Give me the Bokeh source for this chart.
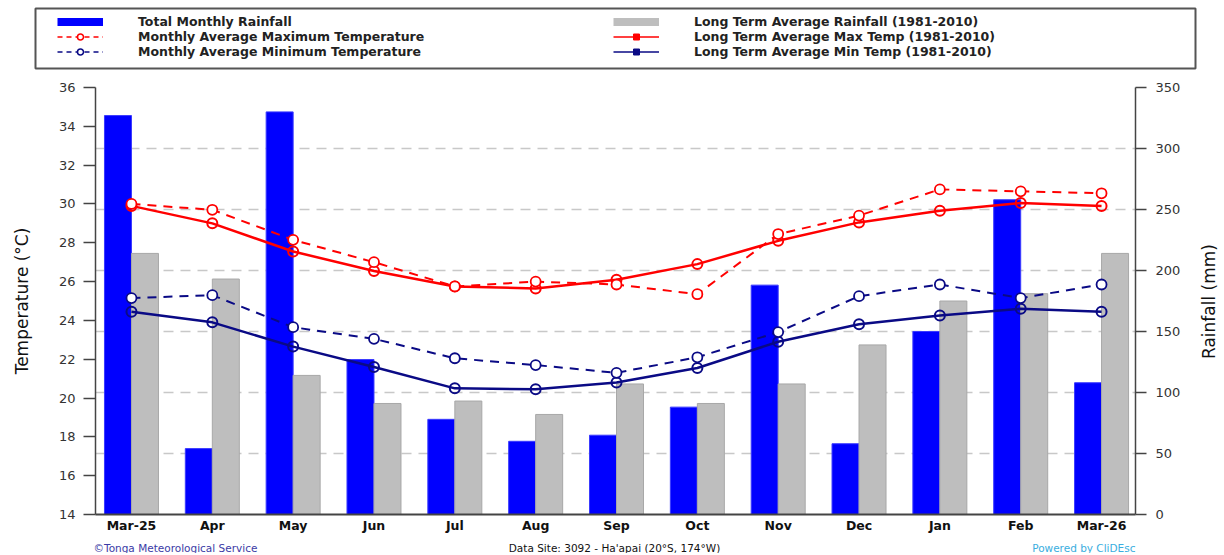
import math
from bokeh.plotting import figure
from bokeh.models import (Range1d, LinearAxis, FixedTicker, Grid, Legend, LegendItem,
                          Label, ColumnDataSource)
from bokeh.transform import dodge
from bokeh.layouts import column, row
from bokeh.embed import file_html
from bokeh.resources import INLINE

# ---------------- data ----------------
months = ["Mar-25", "Apr", "May", "Jun", "Jul", "Aug", "Sep", "Oct", "Nov", "Dec", "Jan", "Feb", "Mar-26"]
rain = [327, 54, 330, 127, 78, 60, 65, 88, 188, 58, 150, 258, 108]
rain_lta = [214, 193, 114, 91, 93, 82, 107, 91, 107, 139, 175, 181, 214]
tmax = [30.0, 29.7, 28.15, 27.0, 25.75, 26.0, 25.85, 25.35, 28.45, 29.4, 30.75, 30.65, 30.55]
tmin = [25.15, 25.3, 23.65, 23.05, 22.05, 21.7, 21.3, 22.1, 23.4, 25.25, 25.85, 25.15, 25.85]
tmax_lta = [29.9, 29.0, 27.55, 26.55, 25.75, 25.65, 26.1, 26.9, 28.1, 29.05, 29.65, 30.05, 29.9]
tmin_lta = [24.45, 23.9, 22.65, 21.6, 20.5, 20.45, 20.8, 21.55, 22.9, 23.8, 24.25, 24.6, 24.45]
temp_ticks = [14, 16, 18, 20, 22, 24, 26, 28, 30, 32, 34, 36]
rain_ticks = [0, 50, 100, 150, 200, 250, 300, 350]
grid_ticks = [50, 100, 150, 200, 250, 300]

FONT = "DejaVu Sans"
RED = "#ff0000"
NAVY = "#0a0a85"
BLUE = "#0000ff"
GRAY = "#bebebe"

MAIN_H = 459


def no_align(fig):
    try:
        fig.frame_align = False
    except Exception:
        pass


src = ColumnDataSource(dict(x=list(range(len(months))), rain=rain, rain_lta=rain_lta,
                            tmax=tmax, tmin=tmin, tmax_lta=tmax_lta, tmin_lta=tmin_lta))

# ---------------- main chart ----------------
p = figure(width=1195, height=MAIN_H, x_range=Range1d(-0.445, 12.42), y_range=Range1d(14, 36),
           toolbar_location=None, output_backend="svg",
           min_border_left=95, min_border_right=60, min_border_top=11, min_border_bottom=20)
no_align(p)
p.extra_y_ranges = {"rain": Range1d(0, 350)}
p.outline_line_color = None
p.xgrid.visible = False
p.ygrid.visible = False

grid = Grid(dimension=1, ticker=FixedTicker(ticks=grid_ticks), y_range_name="rain",
            grid_line_color="#c8c8c8", grid_line_width=1.5, grid_line_dash="10 7")
p.add_layout(grid)

p.vbar(x=dodge("x", -0.167, range=p.x_range), top="rain", bottom=0, width=0.334,
       y_range_name="rain", source=src, fill_color=BLUE, line_color="#3a3aff", line_width=1)
p.vbar(x=dodge("x", 0.167, range=p.x_range), top="rain_lta", bottom=0, width=0.334,
       y_range_name="rain", source=src, fill_color=GRAY, line_color="#a8a8a8", line_width=1)

# long-term averages (solid)
p.line("x", "tmax_lta", source=src, line_color=RED, line_width=2.5)
p.scatter("x", "tmax_lta", source=src, marker="circle", size=10, line_color=RED,
          fill_color=None, line_width=2)
p.line("x", "tmin_lta", source=src, line_color=NAVY, line_width=2.5)
p.scatter("x", "tmin_lta", source=src, marker="circle", size=10, line_color=NAVY,
          fill_color=None, line_width=2)
# monthly averages (dashed)
p.line("x", "tmax", source=src, line_color=RED, line_width=2, line_dash="9 7")
p.scatter("x", "tmax", source=src, marker="circle", size=10, line_color=RED,
          fill_color="white", line_width=1.8)
p.line("x", "tmin", source=src, line_color=NAVY, line_width=2, line_dash="9 7")
p.scatter("x", "tmin", source=src, marker="circle", size=10, line_color=NAVY,
          fill_color="white", line_width=1.8)

# left axis
ya = p.yaxis[0]
ya.ticker = FixedTicker(ticks=temp_ticks)
ya.axis_label = "Temperature (°C)"
ya.axis_label_text_font = FONT
ya.axis_label_text_font_size = "17px"
ya.axis_label_text_font_style = "normal"
ya.axis_label_text_color = "#111111"
ya.axis_label_standoff = 24
ya.major_label_text_font = FONT
ya.major_label_text_font_size = "13px"
ya.major_label_text_color = "#333333"
ya.major_label_standoff = 8
ya.major_tick_out = 12
ya.major_tick_in = 0
ya.minor_tick_out = 0
ya.minor_tick_in = 0
ya.axis_line_color = "#444444"
ya.axis_line_width = 1.5
ya.major_tick_line_color = "#444444"
ya.major_tick_line_width = 1.5

# right axis (its title is drawn in the narrow strip next to the chart)
ra = LinearAxis(y_range_name="rain", ticker=FixedTicker(ticks=rain_ticks))
ra.major_label_text_font = FONT
ra.major_label_text_font_size = "13px"
ra.major_label_text_color = "#333333"
ra.major_label_standoff = 9
ra.major_tick_out = 11
ra.major_tick_in = 0
ra.minor_tick_out = 0
ra.minor_tick_in = 0
ra.axis_line_color = "#444444"
ra.axis_line_width = 1.5
ra.major_tick_line_color = "#444444"
ra.major_tick_line_width = 1.5
p.add_layout(ra, "right")

# bottom axis
xa = p.xaxis[0]
xa.ticker = FixedTicker(ticks=list(range(len(months))))
xa.major_label_overrides = {i: m for i, m in enumerate(months)}
xa.major_label_text_font = FONT
xa.major_label_text_font_size = "12.5px"
xa.major_label_text_font_style = "bold"
xa.major_label_text_color = "#111111"
xa.major_label_standoff = 3
xa.major_tick_out = 0
xa.major_tick_in = 0
xa.minor_tick_out = 0
xa.minor_tick_in = 0
xa.axis_line_color = "#444444"
xa.axis_line_width = 2

# right-hand axis title strip
sf = figure(width=29, height=MAIN_H, x_range=Range1d(0, 29), y_range=Range1d(0, MAIN_H),
            toolbar_location=None, output_backend="svg",
            x_axis_location=None, y_axis_location=None,
            min_border_left=0, min_border_right=0, min_border_top=0, min_border_bottom=0)
no_align(sf)
sf.grid.visible = False
sf.outline_line_color = None
sf.add_layout(Label(x=13, y=MAIN_H - 225, text="Rainfall (mm)", angle=math.pi / 2,
                    text_font=FONT, text_font_size="17px", text_color="#111111",
                    text_align="center", text_baseline="middle"))

# ---------------- legend panel ----------------
lf = figure(width=1224, height=76, x_range=Range1d(0, 1), y_range=Range1d(0, 1),
            toolbar_location=None, output_backend="svg",
            x_axis_location=None, y_axis_location=None,
            min_border_left=35, min_border_right=29, min_border_top=8, min_border_bottom=8)
no_align(lf)
lf.grid.visible = False
lf.outline_line_color = "#555555"
lf.outline_line_width = 2

OFF = dict(x=[-5], y=[-5])  # one point outside the visible range, so legend glyphs get styled
r_bar = lf.line(**OFF, line_color=BLUE, line_width=8)
r_max_l = lf.line(**OFF, line_color=RED, line_width=1.5, line_dash="5 4")
r_max_m = lf.scatter(**OFF, marker="circle", size=8, line_color=RED, fill_color="white", line_width=1.5)
r_min_l = lf.line(**OFF, line_color=NAVY, line_width=1.5, line_dash="5 4")
r_min_m = lf.scatter(**OFF, marker="circle", size=8, line_color=NAVY, fill_color="white", line_width=1.5)
r_lbar = lf.line(**OFF, line_color=GRAY, line_width=8)
r_lmax_l = lf.line(**OFF, line_color=RED, line_width=1.5)
r_lmax_m = lf.scatter(**OFF, marker="square", size=7, line_color=RED, fill_color=RED)
r_lmin_l = lf.line(**OFF, line_color=NAVY, line_width=1.5)
r_lmin_m = lf.scatter(**OFF, marker="square", size=7, line_color=NAVY, fill_color=NAVY)

leg_style = dict(orientation="vertical", padding=0, spacing=0, margin=0,
                 glyph_width=46, glyph_height=15, label_height=15, label_standoff=35,
                 label_text_font=FONT, label_text_font_style="bold",
                 label_text_font_size="12.5px", label_text_color="#222222",
                 border_line_color=None, background_fill_alpha=0)

leg1 = Legend(items=[
    LegendItem(label="Total Monthly Rainfall", renderers=[r_bar]),
    LegendItem(label="Monthly Average Maximum Temperature", renderers=[r_max_l, r_max_m]),
    LegendItem(label="Monthly Average Minimum Temperature", renderers=[r_min_l, r_min_m]),
], location=(22, 9), **leg_style)
leg2 = Legend(items=[
    LegendItem(label="Long Term Average Rainfall (1981-2010)", renderers=[r_lbar]),
    LegendItem(label="Long Term Average Max Temp (1981-2010)", renderers=[r_lmax_l, r_lmax_m]),
    LegendItem(label="Long Term Average Min Temp (1981-2010)", renderers=[r_lmin_l, r_lmin_m]),
], location=(578, 9), **leg_style)
lf.add_layout(leg1)
lf.add_layout(leg2)

# ---------------- footer strip ----------------
ff = figure(width=1224, height=18, x_range=Range1d(0, 1224), y_range=Range1d(0, 18),
            toolbar_location=None, output_backend="svg",
            x_axis_location=None, y_axis_location=None,
            min_border_left=0, min_border_right=0, min_border_top=0, min_border_bottom=0)
no_align(ff)
ff.grid.visible = False
ff.outline_line_color = None
ff.add_layout(Label(x=93, y=6, text="©Tonga Meteorological Service", text_font=FONT,
                    text_font_size="10.5px", text_color="#3b3ba6", text_baseline="middle",
                    text_align="left"))
ff.add_layout(Label(x=614, y=6, text="Data Site: 3092 - Ha'apai (20°S, 174°W)", text_font=FONT,
                    text_font_size="10.5px", text_color="#111111", text_baseline="middle",
                    text_align="center"))
ff.add_layout(Label(x=1135, y=6, text="Powered by CliDEsc", text_font=FONT,
                    text_font_size="10.5px", text_color="#3aaee0", text_baseline="middle",
                    text_align="right"))

layout = column(lf, row(p, sf), ff)
open("out.html", "w").write(file_html(layout, INLINE))
